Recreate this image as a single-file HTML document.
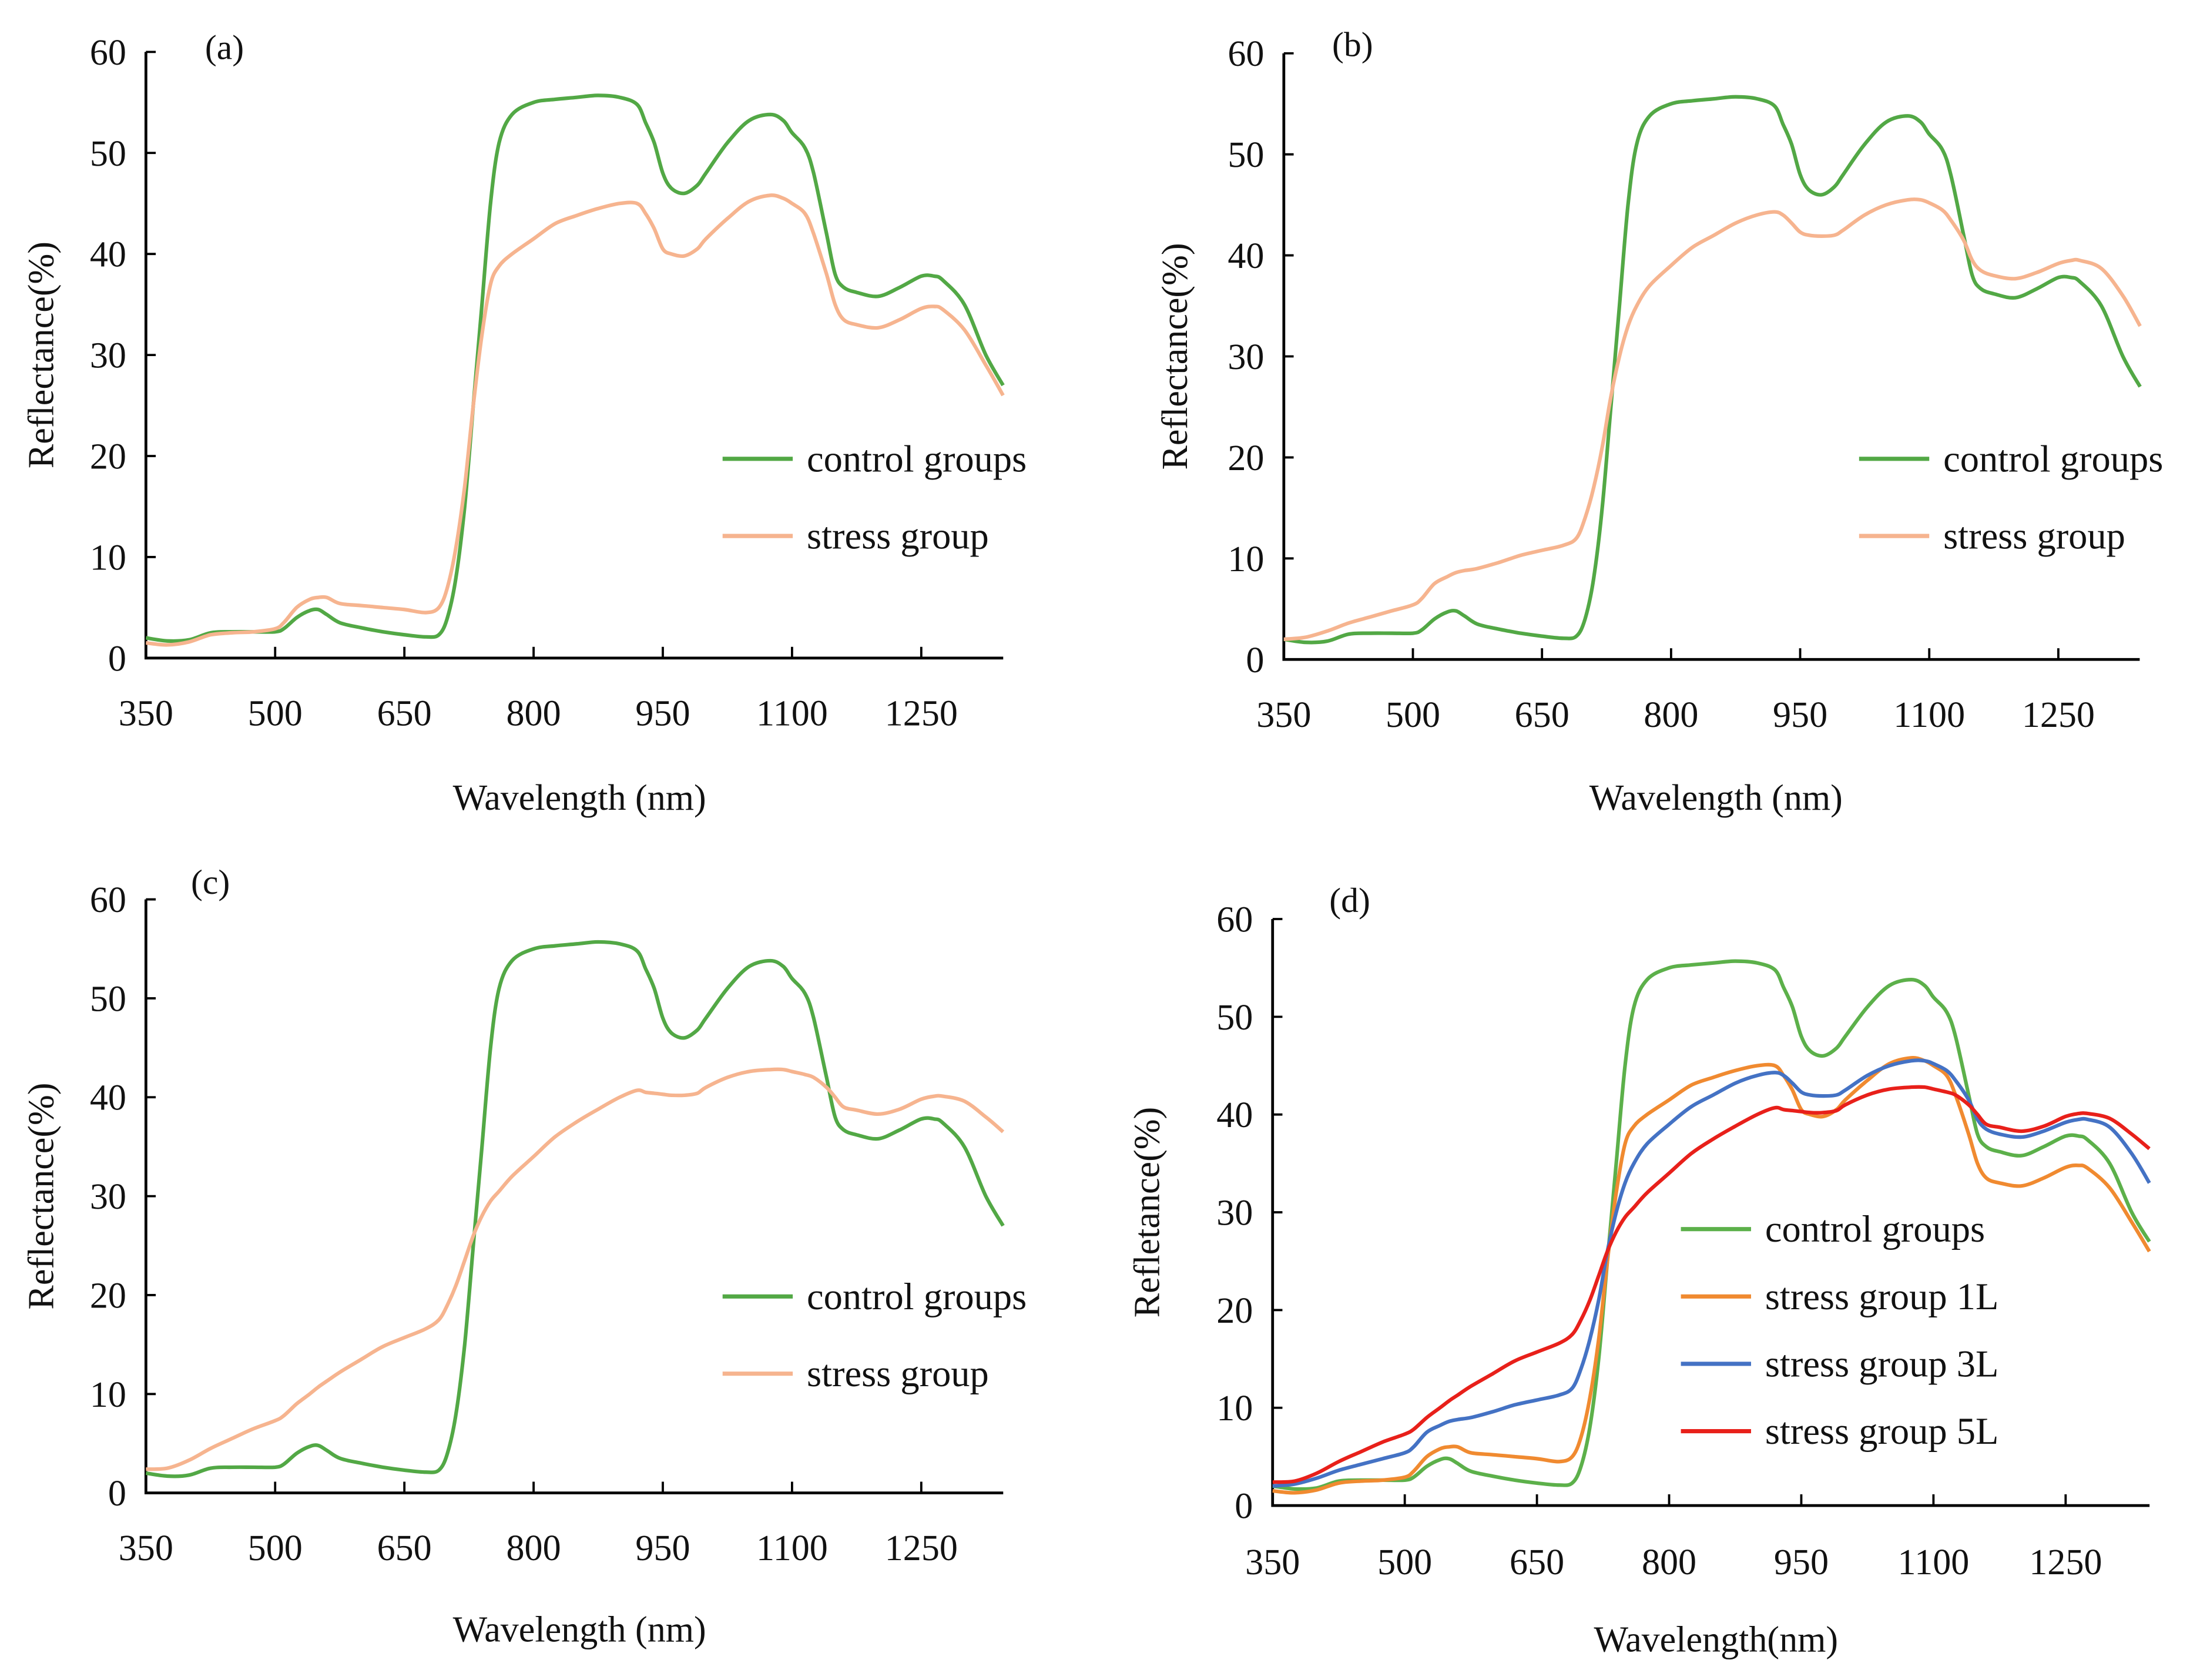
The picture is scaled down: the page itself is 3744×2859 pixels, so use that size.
<!DOCTYPE html>
<html><head><meta charset="utf-8"><style>
html,body{margin:0;padding:0;background:#fff}
svg{display:block}
text{font-family:"Liberation Serif",serif;fill:#111}
</style></head><body>
<svg id="fig" width="3744" height="2859" viewBox="0 0 3744 2859" xmlns="http://www.w3.org/2000/svg">
<rect width="3744" height="2859" fill="#fff"/>
<g id="root" transform="scale(2.3878)"></g>
</svg>
<script>
const wavelengths=[350,375,400,425,450,475,500,510,525,540,550,560,575,600,625,650,675,690,700,710,720,730,740,750,760,775,800,825,850,875,900,920,930,940,950,960,975,990,1000,1025,1050,1075,1090,1100,1115,1125,1140,1150,1160,1175,1200,1225,1250,1265,1275,1300,1325,1345];
const controlGroup=[2,1.7,1.8,2.5,2.6,2.6,2.6,2.9,4,4.7,4.8,4.3,3.5,3,2.6,2.3,2.1,2.3,4,8,15,25,35,45,51,53.8,55,55.3,55.5,55.7,55.5,54.8,53,51,48,46.5,46,46.8,48,51,53.2,53.8,53.2,52,50.5,48,42,38,36.7,36.2,35.8,36.7,37.8,37.8,37.4,35,30,27];
const stress1L=[1.5,1.3,1.6,2.3,2.5,2.6,2.9,3.5,5,5.8,6,6,5.4,5.2,5,4.8,4.5,5,7,11,17,25,32,37,38.8,40,41.5,43,43.8,44.5,45,45,44,42.5,40.5,40,39.8,40.5,41.5,43.5,45.2,45.8,45.5,45,44,42,38,35,33.5,33,32.7,33.5,34.6,34.8,34.5,32.5,29,26];
const stress3L=[2,2.2,2.8,3.6,4.2,4.8,5.4,6,7.5,8.2,8.6,8.8,9,9.6,10.3,10.8,11.3,12,14,17,21,26,30,33,35,37,39,40.8,42,43.2,44,44.3,44,43.2,42.3,42,41.9,42,42.5,44,45,45.5,45.5,45.2,44.5,43.5,41.5,39.5,38.5,38,37.7,38.3,39.2,39.5,39.5,38.7,36,33];
const stress5L=[2.4,2.5,3.3,4.5,5.5,6.5,7.3,7.8,9,10,10.7,11.3,12.2,13.5,14.8,15.7,16.6,17.5,19,21,23.5,26,28,29.5,30.5,32,34,36,37.5,38.8,40,40.7,40.5,40.4,40.3,40.2,40.2,40.4,41,42,42.6,42.8,42.8,42.6,42.3,42,41,40,39,38.7,38.3,38.8,39.8,40.1,40.1,39.6,38,36.5];
const xTicks=[350,500,650,800,950,1100,1250];
const yTicks=[0,10,20,30,40,50,60];

const NS="http://www.w3.org/2000/svg";
const root=document.getElementById('root');
function mk(tag,attrs,parent){const e=document.createElementNS(NS,tag);for(const k in attrs)e.setAttribute(k,attrs[k]);parent.appendChild(e);return e;}
function smooth(pts){
  let d='M'+pts[0][0].toFixed(1)+','+pts[0][1].toFixed(1);
  for(let i=0;i<pts.length-1;i++){
    const p0=pts[i-1]||pts[i],p1=pts[i],p2=pts[i+1],p3=pts[i+2]||p2;
    const c1=[p1[0]+(p2[0]-p0[0])/6,p1[1]+(p2[1]-p0[1])/6];
    const c2=[p2[0]-(p3[0]-p1[0])/6,p2[1]-(p3[1]-p1[1])/6];
    d+=` C${c1[0].toFixed(1)},${c1[1].toFixed(1)} ${c2[0].toFixed(1)},${c2[1].toFixed(1)} ${p2[0].toFixed(1)},${p2[1].toFixed(1)}`;
  }
  return d;
}

const panels=[
 {id:'a',ox:104,oy:469,top:37,px150:92.1,end:715,label:'(a)',lx:160,ly:42,yt:'Reflectance(%)',ytx:38,xt:'Wavelength (nm)',xtx:413,xty:577,tly:517,
  series:[{n:'control groups',d:controlGroup,c:'#52a845'},{n:'stress group',d:stress1L,c:'#f6b48f'}],lgx:515,lgy:[327,382]},
 {id:'b',ox:915,oy:470,top:38,px150:92.0,end:1525,label:'(b)',lx:964,ly:40,yt:'Reflectance(%)',ytx:846,xt:'Wavelength (nm)',xtx:1223,xty:577,tly:518,
  series:[{n:'control groups',d:controlGroup,c:'#52a845'},{n:'stress group',d:stress3L,c:'#f6b48f'}],lgx:1325,lgy:[327,382]},
 {id:'c',ox:104,oy:1064,top:641,px150:92.1,end:715,label:'(c)',lx:150,ly:637,yt:'Reflectance(%)',ytx:38,xt:'Wavelength (nm)',xtx:413,xty:1170,tly:1112,
  series:[{n:'control groups',d:controlGroup,c:'#52a845'},{n:'stress group',d:stress5L,c:'#f6b48f'}],lgx:515,lgy:[924,979]},
 {id:'d',ox:907,oy:1073,top:655,px150:94.2,end:1532,label:'(d)',lx:962,ly:650,yt:'Refletance(%)',ytx:826,xt:'Wavelength(nm)',xtx:1223,xty:1177,tly:1122,
  series:[{n:'control groups',d:controlGroup,c:'#5cb04a'},{n:'stress group 1L',d:stress1L,c:'#f08a30'},{n:'stress group 3L',d:stress3L,c:'#4472c4'},{n:'stress group 5L',d:stress5L,c:'#e8201a'}],lgx:1198,lgy:[876,924,972,1020]}
];

panels.forEach(p=>{
  const g=mk('g',{},root);
  
  
  const xs=v=>p.ox+(v-350)*p.px150/150;
  const ys=v=>p.oy-(v/60)*(p.oy-p.top);
  const ax=mk('path',{d:`M${p.ox},${p.top} V${p.oy} H${p.end}`,fill:'none',stroke:'#000','stroke-width':2},g);
  
  
  yTicks.forEach(t=>{
    mk('line',{x1:p.ox,x2:p.ox+7,y1:ys(t),y2:ys(t),stroke:'#000','stroke-width':1.6},g);
    const tx=mk('text',{x:p.ox-14,y:ys(t)+9,'text-anchor':'end','font-size':26},g);
    tx.textContent=t;
    
    
  });
  xTicks.forEach(t=>{
    mk('line',{x1:xs(t),x2:xs(t),y1:p.oy,y2:p.oy-8,stroke:'#000','stroke-width':1.6},g);
    const tx=mk('text',{x:xs(t),y:p.tly,'text-anchor':'middle','font-size':26},g);
    tx.textContent=t;
    
    
  });
  p.series.forEach((s,i)=>{
    const pts=wavelengths.map((w,k)=>[xs(w),ys(s.d[k])]);
    const ln=mk('path',{d:smooth(pts),fill:'none',stroke:s.c,'stroke-width':2.6,'stroke-linejoin':'round'},g);
    
    
    const lg=mk('g',{},g);
    
    
    mk('line',{x1:p.lgx,x2:p.lgx+50,y1:p.lgy[i],y2:p.lgy[i],stroke:s.c,'stroke-width':3},lg);
    const lt=mk('text',{x:p.lgx+60,y:p.lgy[i]+9,'font-size':27},lg);
    lt.textContent=s.n;
  });
  const pl=mk('text',{x:p.lx,y:p.ly,'text-anchor':'middle','font-size':25},g);
  pl.textContent=p.label;
  
  
  const yc=(p.top+p.oy)/2;
  const yt=mk('text',{x:p.ytx,y:yc,'text-anchor':'middle','font-size':26,transform:`rotate(-90 ${p.ytx} ${yc})`},g);
  yt.textContent=p.yt;
  
  
  const xt=mk('text',{x:p.xtx,y:p.xty,'text-anchor':'middle','font-size':26},g);
  xt.textContent=p.xt;
  
  
});
</script>
</body></html>
